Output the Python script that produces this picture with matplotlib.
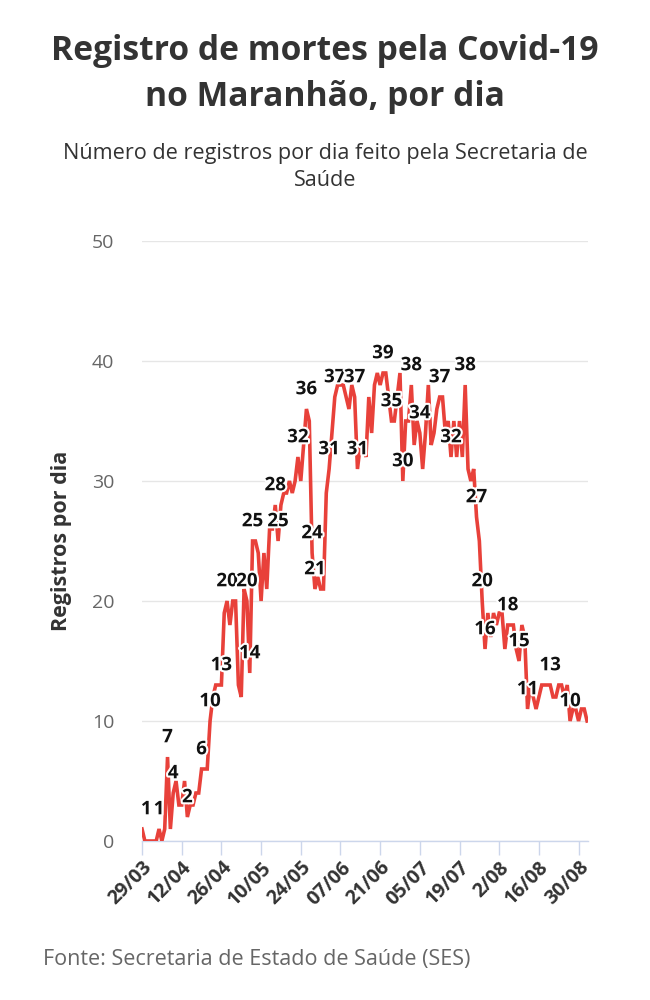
import matplotlib
matplotlib.use("Agg")
import matplotlib.pyplot as plt
import matplotlib.patheffects as pe
import numpy as np

plt.rcParams['font.family'] = ['Open Sans', 'DejaVu Sans']

# registros diarios, a partir de 29/03 (um valor por dia)
deaths = [
    1, 0, 0, 0, 0, 0, 1, 0, 1, 7,
    1, 4, 5, 3, 3, 5, 2, 3, 3, 4,
    4, 6, 6, 6, 10, 12, 13, 13, 13, 19,
    20, 18, 20, 20, 13, 12, 21, 20, 14, 25,
    25, 24, 20, 24, 21, 26, 26, 28, 25, 28,
    29, 29, 30, 29, 30, 32, 30, 33, 36, 35,
    24, 21, 22, 21, 21, 29, 31, 34, 37, 38,
    38, 38, 37, 36, 38, 37, 31, 33, 33, 32,
    37, 34, 38, 39, 38, 39, 39, 37, 35, 35,
    37, 39, 30, 35, 35, 38, 33, 35, 34, 31,
    34, 38, 33, 34, 36, 37, 37, 34, 35, 32,
    35, 32, 35, 32, 38, 31, 30, 31, 27, 25,
    20, 16, 19, 17, 19, 18, 19, 19, 16, 18,
    18, 18, 16, 15, 18, 17, 11, 13, 12, 11,
    12, 13, 13, 13, 13, 12, 12, 13, 13, 12,
    13, 10, 11, 11, 10, 11, 11, 10,
]

# dias com rotulo de valor
label_days = [0, 6, 9, 11, 16, 21, 24, 28, 30, 37, 38, 39, 47, 48, 55, 58,
              60, 61, 66, 68, 75, 76, 85, 88, 92, 95, 98, 105, 109, 114,
              118, 120, 121, 129, 133, 136, 144, 151]

tick_days = [0, 14, 28, 42, 56, 70, 84, 98, 112, 126, 140, 154]
tick_labels = ["29/03", "12/04", "26/04", "10/05", "24/05", "07/06",
               "21/06", "05/07", "19/07", "2/08", "16/08", "30/08"]

days = np.arange(len(deaths))

fig = plt.figure(figsize=(6.5, 10), dpi=100)
ax = fig.add_axes([0.2185, 0.159, 0.686, 0.6])

ax.plot(days, deaths, color='#e8413a', linewidth=2.6, solid_joinstyle='miter', zorder=3)

for d in label_days:
    # rotulo do primeiro ponto empurrado para dentro da area do grafico
    xpos = max(d, 1.5)
    ax.annotate(str(deaths[d]), (xpos, deaths[d]), xytext=(0, 7), textcoords='offset points',
                ha='center', va='bottom', fontsize=13.5, fontweight='bold', color='#111111',
                zorder=5, path_effects=[pe.withStroke(linewidth=3, foreground='white')])

ax.set_xlim(0, 157.3)
ax.set_ylim(0, 50)
ax.set_yticks([0, 10, 20, 30, 40, 50])
ax.set_xticks(tick_days)
ax.set_xticklabels(tick_labels, rotation=45, ha='right', rotation_mode='anchor',
                   fontsize=14, fontweight='bold', color='#333333')
ax.tick_params(axis='x', length=10, width=1, color='#ccd6eb', pad=2)
ax.tick_params(axis='y', length=0, pad=20, labelsize=14, labelcolor='#666666')
ax.grid(axis='y', color='#e6e6e6', linewidth=1)
ax.set_axisbelow(True)
for side in ['top', 'right', 'left']:
    ax.spines[side].set_visible(False)
ax.spines['bottom'].set_color('#ccd6eb')
ax.spines['bottom'].set_linewidth(1)

ax.set_ylabel('Registros por dia', fontsize=15.5, fontweight='bold', color='#333333', labelpad=14)

fig.text(0.5, 0.966, 'Registro de mortes pela Covid-19\nno Maranhão, por dia', ha='center', va='top',
         fontsize=24.2, fontweight='bold', color='#333333', linespacing=1.45)
fig.text(0.5, 0.857, 'Número de registros por dia feito pela Secretaria de\nSaúde', ha='center', va='top',
         fontsize=15.6, color='#333333', linespacing=1.38)
fig.text(0.066, 0.04, 'Fonte: Secretaria de Estado de Saúde (SES)', ha='left', va='center',
         fontsize=15.5, color='#666666')

fig.savefig('out.png', dpi=100)
